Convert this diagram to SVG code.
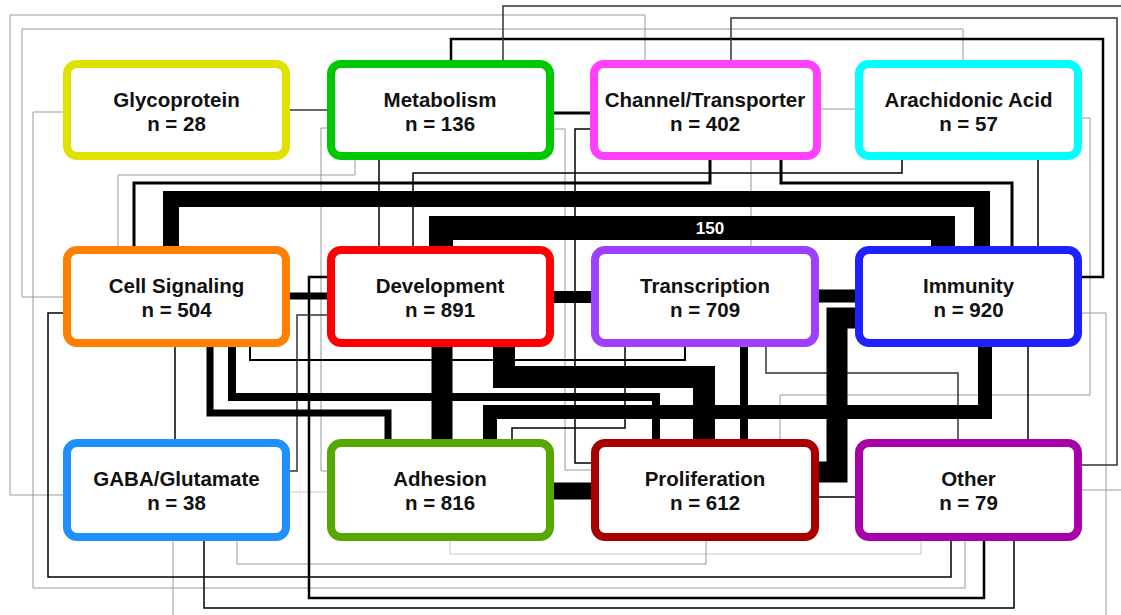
<svg xmlns="http://www.w3.org/2000/svg" width="1121" height="615" viewBox="0 0 1121 615">
<style>
.c{fill:none;stroke-linejoin:miter;stroke-linecap:butt}
.k{stroke:#000}
.d{stroke:#333}
.g{stroke:#999}
.l{stroke:#c8c8c8}
.box{fill:#fff;stroke-width:8}
.t{font-family:"Liberation Sans",Arial,sans-serif;font-weight:bold;font-size:20.5px;text-anchor:middle;fill:#111}
.lbl{font-family:"Liberation Sans",Arial,sans-serif;font-weight:bold;font-size:17px;text-anchor:middle;fill:#fff}
</style>
<rect width="1121" height="615" fill="#fff"/>
<g id="connectors" class="c">
<!-- gray lines -->
<path class="g" stroke-width="1" d="M645,60 V15 H10 V495 H63"/>
<path class="g" stroke-width="1" d="M963,60 V29 H22 V297 H63"/>
<path class="g" stroke-width="1" d="M63,112 H33 V588 H965 V541"/>
<path class="g" stroke-width="1" d="M355,160 V175 H118 V246"/>
<path class="g" stroke-width="1" d="M327,128 H321 V471 H327"/>
<path class="g" stroke-width="1" d="M553,129 H565 V470 H591"/>
<path class="g" stroke-width="1" d="M821,109 H855"/>
<path class="g" stroke-width="1" d="M751,160 V246"/>
<path class="g" stroke-width="1" d="M1082,118 H1090 V395 H780 V439"/>
<path class="g" stroke-width="1" d="M1082,313 H1106 V615"/>
<path class="g" stroke-width="1" d="M173,541 V615"/>
<path class="l" stroke-width="1" d="M290,492 H327"/>
<path class="l" stroke-width="1" d="M450,541 V554 H921 V541"/>
<path class="g" stroke-width="1" d="M237,541 V564 H706 V541"/>
<path class="g" stroke-width="1" d="M1082,490 H1121"/>
<!-- thin black / dark -->
<path class="d" stroke-width="1.5" d="M290,110 H327"/>
<path class="k" stroke-width="1.5" d="M379,160 V246"/>
<path class="k" stroke-width="1.5" d="M413,246 V173 H902 V160"/>
<path class="k" stroke-width="3" d="M134,246 V183 H710 V160"/>
<path class="k" stroke-width="3" d="M781,160 V183 H1012 V246"/>
<path class="k" stroke-width="1.5" d="M1038,160 V246"/>
<path class="k" stroke-width="2.5" d="M451,60 V39 H1103 V277 H1082"/>
<path class="d" stroke-width="1.5" d="M503,60 V6 H1121"/>
<path class="d" stroke-width="1.5" d="M731,60 V18 H1117 V465 H1082"/>
<path class="k" stroke-width="1.5" d="M1028,347 V439"/>
<path class="d" stroke-width="1.5" d="M766,347 V373 H958 V439"/>
<path class="k" stroke-width="1.5" d="M175,347 V439"/>
<path class="k" stroke-width="1.5" d="M63,313 H48 V577 H951 V541"/>
<path class="k" stroke-width="2.5" d="M327,277 H309 V598 H984 V541"/>
<path class="k" stroke-width="1.5" d="M204,541 V608 H1014 V541"/>
<path class="d" stroke-width="1.5" d="M327,315 H297 V471 H290"/>
<path class="k" stroke-width="2" d="M250,347 V360 H685 V347"/>
<path class="k" stroke-width="1.5" d="M625,347 V428 H512 V439"/>
<path class="k" stroke-width="1.5" d="M590,129 H575 V463 H591"/>
<path class="k" stroke-width="1.5" d="M819,497 H855"/>
<path class="k" stroke-width="3" d="M553,113 H590"/>
<!-- thick black -->
<path class="k" stroke-width="16" d="M171,246 V199 H982 V246"/>
<path class="k" stroke-width="24" d="M441,246 V228 H943 V246"/>
<path class="k" stroke-width="7" d="M290,296 H327"/>
<path class="k" stroke-width="12" d="M553,297 H591"/>
<path class="k" stroke-width="13" d="M819,296 H855"/>
<path class="k" stroke-width="21" d="M855,318 H837 V472 H819"/>
<path class="k" stroke-width="21" d="M442,347 V439"/>
<path class="k" stroke-width="17" d="M553,491 H591"/>
<path class="k" stroke-width="22" d="M504,347 V377 H704 V439"/>
<path class="k" stroke-width="14" d="M985,347 V412 H490 V439"/>
<path class="k" stroke-width="8" d="M744,347 V439"/>
<path class="k" stroke-width="7" d="M210,347 V413 H388 V439"/>
<path class="k" stroke-width="8" d="M232,347 V397 H656 V439"/>
<text class="lbl" x="710" y="234">150</text>
</g>
<g id="glycoprotein"><rect class="box" x="67" y="64" width="219" height="92" rx="10" stroke="#e1e100"/><text class="t" x="176.5" y="107">Glycoprotein</text><text class="t" x="176.5" y="131">n = 28</text></g>
<g id="metabolism"><rect class="box" x="331" y="64" width="219" height="92" rx="10" stroke="#00c800"/><text class="t" x="440" y="107">Metabolism</text><text class="t" x="440" y="131">n = 136</text></g>
<g id="channel"><rect class="box" x="594" y="64" width="223" height="92" rx="10" stroke="#ff40ff"/><text class="t" x="705" y="107">Channel/Transporter</text><text class="t" x="705" y="131">n = 402</text></g>
<g id="arachidonic"><rect class="box" x="859" y="64" width="219" height="92" rx="10" stroke="#00ffff"/><text class="t" x="968.5" y="107">Arachidonic Acid</text><text class="t" x="968.5" y="131">n = 57</text></g>
<g id="cellsignaling"><rect class="box" x="67" y="250" width="219" height="93" rx="10" stroke="#ff8000"/><text class="t" x="176.5" y="293">Cell Signaling</text><text class="t" x="176.5" y="317">n = 504</text></g>
<g id="development"><rect class="box" x="331" y="250" width="219" height="93" rx="10" stroke="#ff0000"/><text class="t" x="440" y="293">Development</text><text class="t" x="440" y="317">n = 891</text></g>
<g id="transcription"><rect class="box" x="595" y="250" width="220" height="93" rx="10" stroke="#9d40ff"/><text class="t" x="705" y="293">Transcription</text><text class="t" x="705" y="317">n = 709</text></g>
<g id="immunity"><rect class="box" x="859" y="250" width="219" height="93" rx="10" stroke="#2020ff"/><text class="t" x="968.5" y="293">Immunity</text><text class="t" x="968.5" y="317">n = 920</text></g>
<g id="gaba"><rect class="box" x="67" y="443" width="219" height="94" rx="10" stroke="#2090ff"/><text class="t" x="176.5" y="486">GABA/Glutamate</text><text class="t" x="176.5" y="510">n = 38</text></g>
<g id="adhesion"><rect class="box" x="331" y="443" width="219" height="94" rx="10" stroke="#55a800"/><text class="t" x="440" y="486">Adhesion</text><text class="t" x="440" y="510">n = 816</text></g>
<g id="proliferation"><rect class="box" x="595" y="443" width="220" height="94" rx="10" stroke="#a80000"/><text class="t" x="705" y="486">Proliferation</text><text class="t" x="705" y="510">n = 612</text></g>
<g id="other"><rect class="box" x="859" y="443" width="219" height="94" rx="10" stroke="#a800a8"/><text class="t" x="968.5" y="486">Other</text><text class="t" x="968.5" y="510">n = 79</text></g>
</svg>
